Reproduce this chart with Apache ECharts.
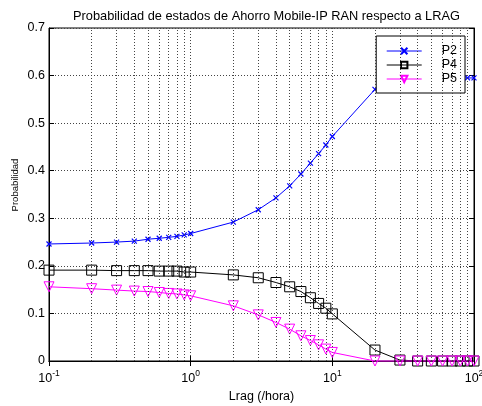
<!DOCTYPE html>
<html>
<head>
<meta charset="utf-8">
<script src="https://cdn.jsdelivr.net/npm/echarts@6/dist/echarts.min.js"></script>
<style>
  html, body { margin: 0; padding: 0; background: #fff; }
  #chart { width: 482px; height: 406px; }
</style>
</head>
<body>
<div id="chart"></div>
<script>
// Lrag (/hora)
var lrag = [0.1, 0.2, 0.3, 0.4, 0.5, 0.6, 0.7, 0.8, 0.9, 1,
            2, 3, 4, 5, 6, 7, 8, 9, 10,
            20, 30, 40, 50, 60, 70, 80, 90, 100];
var p2 = [0.246, 0.248, 0.250, 0.252, 0.256, 0.258, 0.260, 0.262, 0.265, 0.268,
          0.292, 0.318, 0.343, 0.368, 0.393, 0.416, 0.436, 0.454, 0.472,
          0.571, 0.588, 0.592, 0.594, 0.595, 0.595, 0.595, 0.595, 0.595];
var p4 = [0.191, 0.191, 0.190, 0.190, 0.190, 0.189, 0.189, 0.189, 0.187, 0.187,
          0.181, 0.175, 0.165, 0.156, 0.146, 0.133, 0.121, 0.111, 0.099,
          0.023, 0.002, 0, 0, 0, 0, 0, 0, 0];
var p5 = [0.156, 0.152, 0.149, 0.147, 0.146, 0.144, 0.142, 0.141, 0.139, 0.137,
          0.116, 0.097, 0.081, 0.067, 0.053, 0.043, 0.034, 0.025, 0.018,
          0, 0, 0, 0, 0, 0, 0, 0, 0];
var minorX = [0.2, 0.3, 0.4, 0.5, 0.6, 0.7, 0.8, 0.9,
              2, 3, 4, 5, 6, 7, 8, 9,
              20, 30, 40, 50, 60, 70, 80, 90];
var xTickLabels = {0.1: '-1', 1: '0', 10: '1', 100: '2'};

function pairs(ys) {
  return lrag.map(function (x, i) { return [x, ys[i]]; });
}

var font = 'Liberation Sans, Arial, sans-serif';
var fs = 12.5;
var gridLine = { show: true, lineStyle: { color: '#444', type: [1, 2], width: 1 } };

var myChart = echarts.init(document.getElementById('chart'));
myChart.setOption({
  animation: false,
  backgroundColor: '#fff',
  textStyle: { fontFamily: font },
  title: {
    text: 'Probabilidad de estados de Ahorro Mobile-IP RAN respecto a LRAG',
    left: 68, top: 5,
    textStyle: { fontSize: 12.8, fontWeight: 'normal', color: '#000', fontFamily: font }
  },
  legend: {
    orient: 'vertical', right: 17, top: 36,
    backgroundColor: '#fff', borderColor: '#000', borderWidth: 1,
    padding: [8, 8, 7, 10], itemGap: 0, itemWidth: 35, itemHeight: 8,
    lineStyle: { width: 1 },
    textStyle: { fontSize: fs, lineHeight: 14, color: '#000', fontFamily: font, padding: [0, 0, 0, 15] },
    data: ['P2', 'P4', 'P5']
  },
  grid: { left: 49, right: 8, top: 28, bottom: 45, outerBoundsMode: 'none',
    show: true, borderColor: '#000', borderWidth: 1 },
  xAxis: [{
    type: 'log', logBase: 10, min: 0.1, max: 100,
    name: 'Lrag (/hora)', nameLocation: 'middle', nameGap: 25,
    nameTextStyle: { fontSize: fs, color: '#000' },
    axisLine: { lineStyle: { color: '#000' } },
    axisTick: { inside: true, length: 5, lineStyle: { color: '#000' } },
    axisLabel: {
      color: '#000', margin: 8,
      formatter: function (v) {
        var e = xTickLabels[v];
        if (e === undefined) e = String(Math.round(Math.log10(v)));
        return '{b|10}{s|' + e + '}';
      },
      rich: {
        b: { fontSize: fs, color: '#000', fontFamily: font, verticalAlign: 'bottom' },
        s: { fontSize: 8.5, color: '#000', fontFamily: font, verticalAlign: 'top', padding: [0, 0, 7, 0] }
      }
    },
    splitLine: gridLine
  }, {
    type: 'log', logBase: 10, min: 0.1, max: 100, position: 'top',
    axisLine: { lineStyle: { color: '#000' } },
    axisTick: { inside: true, length: 5, lineStyle: { color: '#000' } },
    axisLabel: { show: false }, splitLine: { show: false }
  }],
  yAxis: [{
    type: 'value', min: 0, max: 0.7, interval: 0.1,
    name: 'Probabilidad', nameLocation: 'middle', nameGap: 29, nameMoveOverlap: false,
    nameTextStyle: { fontSize: 9.5, color: '#000', padding: [0, 0, 0, 19] },
    axisLine: { show: true, lineStyle: { color: '#000' } },
    axisTick: { show: true, inside: true, length: 5, lineStyle: { color: '#000' } },
    axisLabel: { color: '#000', fontSize: fs, margin: 4,
      formatter: function (v) { return v === 0 ? '0' : v.toFixed(1); } },
    splitLine: gridLine
  }, {
    type: 'value', min: 0, max: 0.7, interval: 0.1, position: 'right',
    axisLine: { show: true, lineStyle: { color: '#000' } },
    axisTick: { show: true, inside: true, length: 5, lineStyle: { color: '#000' } },
    axisLabel: { show: false }, splitLine: { show: false }
  }],
  series: [{
    name: 'grid-minor', type: 'line', data: [], silent: true,
    markLine: {
      silent: true, symbol: 'none', label: { show: false }, animation: false,
      lineStyle: { color: '#444', type: [1, 2], width: 1 },
      data: minorX.map(function (x) { return { xAxis: x }; })
    }
  }, {
    name: 'P2', type: 'line', data: pairs(p2), clip: false,
    symbol: 'path://M0,0L10,10M10,0L0,10', symbolSize: 5,
    itemStyle: { color: '#0000ff', borderColor: '#0000ff', borderWidth: 1.2 },
    lineStyle: { color: '#0000ff', width: 1 }
  }, {
    name: 'P4', type: 'line', data: pairs(p4), clip: false,
    symbol: 'path://M0,0H10V10H0Z', symbolSize: 10,
    itemStyle: { color: 'transparent', borderColor: '#000', borderWidth: 1 },
    lineStyle: { color: '#000', width: 1 }
  }, {
    name: 'P5', type: 'line', data: pairs(p5), clip: false,
    symbol: 'path://M0,0L10,0L5,9Z', symbolSize: 10,
    itemStyle: { color: 'transparent', borderColor: '#ff00ff', borderWidth: 1 },
    lineStyle: { color: '#ff00ff', width: 1 }
  }]
});
</script>
</body>
</html>
